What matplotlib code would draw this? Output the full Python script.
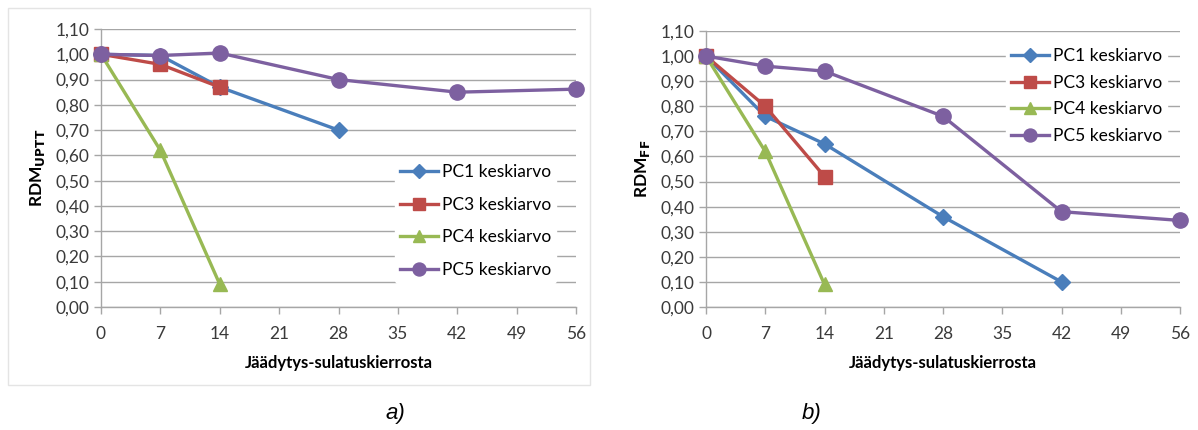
import matplotlib
matplotlib.use("Agg")
import matplotlib.pyplot as plt
from matplotlib.ticker import FuncFormatter
from matplotlib.patches import Rectangle

# Jäädytys-sulatuskierrokset
kierrokset = [0, 7, 14, 28, 42, 56]

# a) RDM_UPTT
a_pc1 = [1.00, 0.995, 0.87, 0.70]
a_pc3 = [1.00, 0.96, 0.87]
a_pc4 = [1.00, 0.62, 0.09]
a_pc5 = [1.00, 0.995, 1.005, 0.90, 0.85, 0.862]

# b) RDM_FF
b_pc1 = [1.00, 0.76, 0.65, 0.36, 0.10]
b_pc3 = [1.00, 0.80, 0.52]
b_pc4 = [1.00, 0.62, 0.09]
b_pc5 = [1.00, 0.96, 0.94, 0.76, 0.38, 0.345]

sarjat = ["PC1 keskiarvo", "PC3 keskiarvo", "PC4 keskiarvo", "PC5 keskiarvo"]
varit = ["#4A7EBB", "#BE4B48", "#98B954", "#7D60A0"]
merkit = ["D", "s", "^", "o"]
koot = [8, 10, 10, 11]

plt.rcParams["font.family"] = ["Lato", "DejaVu Sans"]

W, H = 1198, 430


def kuvaaja(ax, data, ylabel, legend_xy, spacing):
    for arvot, nimi, vari, merkki, koko in zip(data, sarjat, varit, merkit, koot):
        ax.plot(kierrokset[:len(arvot)], arvot, color=vari, marker=merkki,
                markersize=koko, linewidth=2.4, label=nimi, clip_on=False, zorder=3)
    ax.set_xlim(0, 56)
    ax.set_ylim(0, 1.1)
    ax.set_xticks(range(0, 57, 7))
    ax.set_yticks([i / 10 for i in range(12)])
    ax.yaxis.set_major_formatter(FuncFormatter(lambda v, p: f"{v:.2f}".replace(".", ",")))
    ax.grid(axis="y", color="#A6A6A6", linewidth=1)
    ax.set_axisbelow(True)
    for s in ["top", "right"]:
        ax.spines[s].set_visible(False)
    for s in ["left", "bottom"]:
        ax.spines[s].set_color("#A6A6A6")
        ax.spines[s].set_linewidth(1)
    ax.tick_params(axis="both", colors="#A6A6A6", labelcolor="#3A3A3A", labelsize=12.5,
                   length=5, width=1)
    ax.tick_params(axis="x", pad=9)
    ax.set_xlabel("Jäädytys-sulatuskierrosta", fontsize=12, fontweight="bold", labelpad=9)
    ax.set_ylabel(ylabel, fontsize=12.5, fontweight="bold", labelpad=6)
    leg = ax.legend(loc="center left", bbox_to_anchor=(legend_xy[0] / W, 1 - legend_xy[1] / H),
                    bbox_transform=ax.figure.transFigure, frameon=True,
                    fontsize=12.5, handlelength=2.2, labelspacing=spacing,
                    borderpad=0.3, borderaxespad=0, handletextpad=0.2,
                    markerscale=0.85)
    leg.get_frame().set_edgecolor("white")
    leg.get_frame().set_facecolor("white")
    leg.get_frame().set_alpha(1)


fig = plt.figure(figsize=(W / 100, H / 100), dpi=100)
fig.patches.append(Rectangle((8 / W, 1 - 385 / H), 582 / W, 377 / H,
                             transform=fig.transFigure, fill=False,
                             edgecolor="#E4E4E4", linewidth=1))

ax1 = fig.add_axes([101 / W, 1 - 307 / H, 475 / W, 278 / H])
kuvaaja(ax1, [a_pc1, a_pc3, a_pc4, a_pc5], "RDM$_{\\mathbf{UPTT}}$", (395, 221), 0.95)

ax2 = fig.add_axes([706 / W, 1 - 307 / H, 474 / W, 276 / H])
kuvaaja(ax2, [b_pc1, b_pc3, b_pc4, b_pc5], "RDM$_{\\mathbf{FF}}$", (1006, 96), 0.6)

fig.text(395 / W, 1 - 413 / H, "a)", fontsize=16, style="italic",
         family="Liberation Sans", ha="center", va="center")
fig.text(812 / W, 1 - 413 / H, "b)", fontsize=16, style="italic",
         family="Liberation Sans", ha="center", va="center")

fig.savefig("out.png", dpi=100)
